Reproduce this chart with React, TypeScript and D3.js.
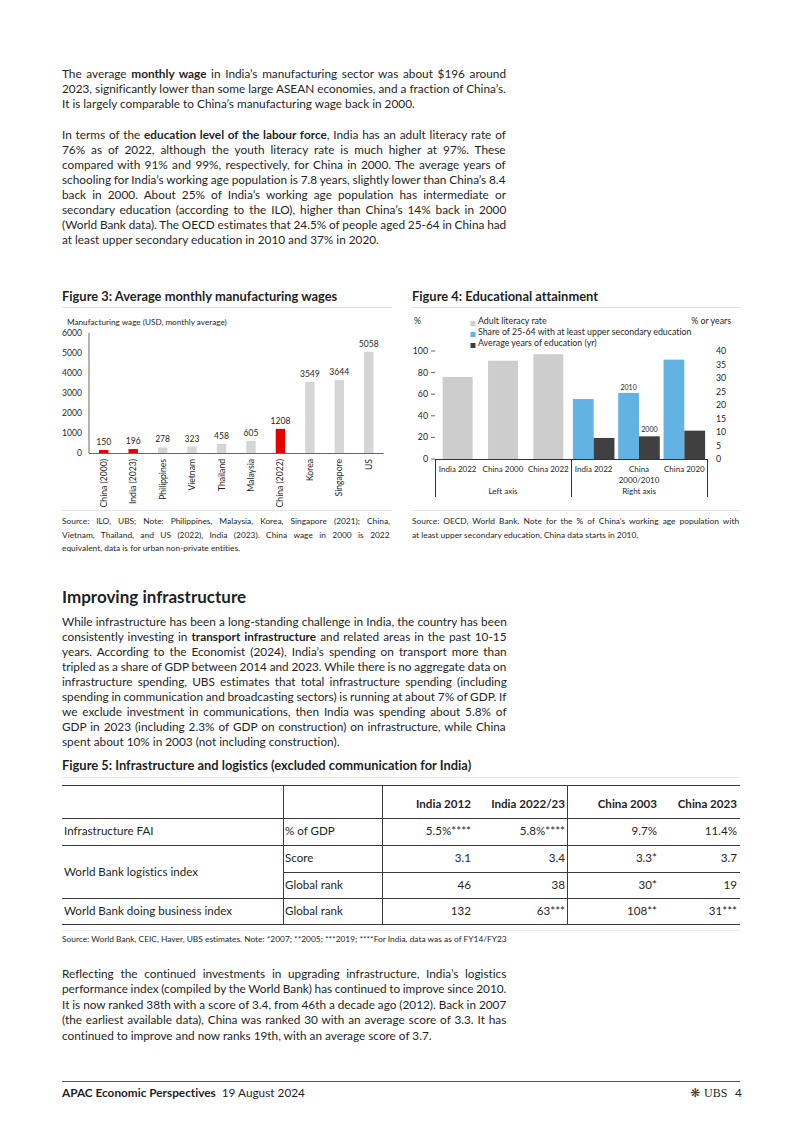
import React from 'react';
import * as d3 from 'd3';

const W = 802;
const H = 1134;
const FONT = "Lato, 'Open Sans', sans-serif";
const TEXT = '#1f1f1f';

// ---------- Figure 3 data ----------
const wageCountries = ['China (2000)', 'India (2023)', 'Philippines', 'Vietnam', 'Thailand', 'Malaysia', 'China (2022)', 'Korea', 'Singapore', 'US'];
const wageValues = [150, 196, 278, 323, 458, 605, 1208, 3549, 3644, 5058];
const wageHighlight = [true, true, false, false, false, false, true, false, false, false];
const wageTicks = [0, 1000, 2000, 3000, 4000, 5000, 6000];

// ---------- Figure 4 data ----------
const eduLeftCats = ['India 2022', 'China 2000', 'China 2022'];
const literacyRate = [76, 91, 97];
const eduRightCats = ['India 2022', 'China\n2000/2010', 'China 2020'];
const upperSecondaryShare = [22.2, 24.5, 36.8];
const avgYearsEdu = [7.8, 8.4, 10.5];
const shareNotes = ['', '2010', ''];
const yearsNotes = ['', '2000', ''];
const leftTicks = [0, 20, 40, 60, 80, 100];
const rightTicks = [0, 5, 10, 15, 20, 25, 30, 35, 40];
const eduLegend = ['Adult literacy rate', 'Share of 25-64 with at least upper secondary education', 'Average years of education (yr)'];

// ---------- Figure 5 table ----------
const tableHeaders = ['India 2012', 'India 2022/23', 'China 2003', 'China 2023'];
const tableLabels = ['Infrastructure FAI', 'World Bank logistics index', '', 'World Bank doing business index'];
const tableMetrics = ['% of GDP', 'Score', 'Global rank', 'Global rank'];
const tableValues = [
  ['5.5%****', '5.8%****', '9.7%', '11.4%'],
  ['3.1', '3.4', '3.3*', '3.7'],
  ['46', '38', '30*', '19'],
  ['132', '63***', '108**', '31***'],
];

// ---------- Text ----------
const para1 = [
  'The average **monthly wage** in India’s manufacturing sector was about $196 around',
  '2023, significantly lower than some large ASEAN economies, and a fraction of China’s.',
  'It is largely comparable to China’s manufacturing wage back in 2000.',
];
const para2 = [
  'In terms of the **education level of the labour force**, India has an adult literacy rate of',
  '76% as of 2022, although the youth literacy rate is much higher at 97%. These',
  'compared with 91% and 99%, respectively, for China in 2000. The average years of',
  'schooling for India’s working age population is 7.8 years, slightly lower than China’s 8.4',
  'back in 2000. About 25% of India’s working age population has intermediate or',
  'secondary education (according to the ILO), higher than China’s 14% back in 2000',
  '(World Bank data). The OECD estimates that 24.5% of people aged 25-64 in China had',
  'at least upper secondary education in 2010 and 37% in 2020.',
];
const para3 = [
  'While infrastructure has been a long-standing challenge in India, the country has been',
  'consistently investing in **transport infrastructure** and related areas in the past 10-15',
  'years. According to the Economist (2024), India’s spending on transport more than',
  'tripled as a share of GDP between 2014 and 2023. While there is no aggregate data on',
  'infrastructure spending, UBS estimates that total infrastructure spending (including',
  'spending in communication and broadcasting sectors) is running at about 7% of GDP. If',
  'we exclude investment in communications, then India was spending about 5.8% of',
  'GDP in 2023 (including 2.3% of GDP on construction) on infrastructure, while China',
  'spent about 10% in 2003 (not including construction).',
];
const para4 = [
  'Reflecting the continued investments in upgrading infrastructure, India’s logistics',
  'performance index (compiled by the World Bank) has continued to improve since 2010.',
  'It is now ranked 38th with a score of 3.4, from 46th a decade ago (2012). Back in 2007',
  '(the earliest available data), China was ranked 30 with an average score of 3.3. It has',
  'continued to improve and now ranks 19th, with an average score of 3.7.',
];
const src3 = [
  'Source: ILO, UBS; Note: Philippines, Malaysia, Korea, Singapore (2021); China,',
  'Vietnam, Thailand, and US (2022), India (2023). China wage in 2000 is 2022',
  'equivalent, data is for urban non-private entities.',
];
const src4 = [
  'Source: OECD, World Bank. Note for the % of China’s working age population with',
  'at least upper secondary education, China data starts in 2010.',
];
const src5 = ['Source: World Bank, CEIC, Haver, UBS estimates. Note: *2007; **2005; ***2019; ****For India, data was as of FY14/FY23'];

// ---------- helpers ----------
let ctx: CanvasRenderingContext2D | null = null;
function measure(text: string, size: number, weight: number, family: string) {
  if (!ctx) ctx = document.createElement('canvas').getContext('2d');
  if (!ctx) return text.length * size * 0.5;
  ctx.font = `${weight} ${size}px ${family}`;
  return ctx.measureText(text).width;
}
function parse(line: string, plain: boolean) {
  if (plain) return [{ t: line, b: false }];
  const parts = line.split('**');
  return parts.map((t, i) => ({ t, b: i % 2 === 1 })).filter((s) => s.t.length > 0);
}

function Para({ lines, x, y, lh, width, size, justify = true, plain = false, family = FONT, color = TEXT }: any) {
  return (
    <g transform={`translate(${x},0)`}>
      {lines.map((line: string, i: number) => {
        const segs = parse(line, plain);
        const nat = segs.reduce((s, g) => s + measure(g.t, size, g.b ? 700 : 400, family), 0);
        const isLast = i === lines.length - 1;
        const raw = plain ? line : line.replace(/\*\*/g, '');
        const spaces = (raw.match(/ /g) || []).length;
        const ws = justify && !isLast && spaces > 0 ? (width - nat) / spaces : 0;
        return (
          <text key={i} x={0} y={y + i * lh} fontSize={size} fontFamily={family} fill={color} style={{ whiteSpace: 'pre', wordSpacing: `${ws}px` }}>
            {segs.map((g, j) => (
              <tspan key={j} fontWeight={g.b ? 700 : 400}>{g.t}</tspan>
            ))}
          </text>
        );
      })}
    </g>
  );
}

// ---------- Figure 3 ----------
function Fig3() {
  const x = d3.scaleBand<string>().domain(wageCountries).range([89, 383.5]).paddingInner(0.68).paddingOuter(0.34);
  const y = d3.scaleLinear().domain([0, 6000]).range([453, 333]);
  const fs = 8.6;
  return (
    <g fontFamily={FONT} fill={TEXT}>
      <text x={62} y={301} fontSize={12.9} fontWeight={700}>Figure 3: Average monthly manufacturing wages</text>
      <line x1={62} x2={392} y1={307.5} y2={307.5} stroke="#e2e2e2" />
      <text x={67} y={325} fontSize={8.2}>Manufacturing wage (USD, monthly average)</text>
      {wageTicks.map((t) => (
        <text key={t} x={82} y={y(t)} dy="0.35em" fontSize={fs} textAnchor="end">{t}</text>
      ))}
      {wageCountries.map((c, i) => (
        <g key={c}>
          <rect x={x(c)} y={y(wageValues[i])} width={x.bandwidth()} height={y(0) - y(wageValues[i])} fill={wageHighlight[i] ? '#e60000' : '#d5d5d5'} />
          <text x={(x(c) as number) + x.bandwidth() / 2} y={y(wageValues[i]) - 5} fontSize={fs} textAnchor="middle">{wageValues[i]}</text>
          <text transform={`translate(${(x(c) as number) + x.bandwidth() / 2},459) rotate(-90)`} dy="0.35em" fontSize={8.6} textAnchor="end">{c}</text>
        </g>
      ))}
      <line x1={89} x2={89} y1={333} y2={453} stroke="#666" />
      <line x1={89} x2={383.5} y1={453.5} y2={453.5} stroke="#666" />
      <line x1={62} x2={392} y1={510.5} y2={510.5} stroke="#e6e6e6" />
    </g>
  );
}

// ---------- Figure 4 ----------
function Fig4() {
  const keys = [...eduLeftCats.map((c) => 'L|' + c), ...eduRightCats.map((c) => 'R|' + c)];
  const x = d3.scaleBand<string>().domain(keys).range([435, 707]).paddingInner(0.34).paddingOuter(0.17);
  const xo = d3.scaleBand<string>().domain(keys).range([435, 707]);
  const yL = d3.scaleLinear().domain([0, 100]).range([459, 351]);
  const yR = d3.scaleLinear().domain([0, 40]).range([459, 351]);
  const sub = d3.scaleBand<string>().domain(['share', 'years']).range([0, xo.bandwidth()]).paddingInner(0).paddingOuter(0.09);
  const fs = 8.8;
  const colors = ['#cdcdcd', '#62b3e4', '#404040'];
  return (
    <g fontFamily={FONT} fill={TEXT}>
      <text x={412} y={301} fontSize={12.9} fontWeight={700}>Figure 4: Educational attainment</text>
      <line x1={412} x2={741} y1={307.5} y2={307.5} stroke="#e2e2e2" />
      <text x={414} y={324} fontSize={fs}>%</text>
      <text x={731} y={324} fontSize={fs} textAnchor="end">% or years</text>
      {eduLegend.map((l, i) => (
        <g key={l}>
          <rect x={470.5} y={321 + i * 11} width={5} height={5} fill={colors[i]} />
          <text x={478} y={324.3 + i * 11} fontSize={fs}>{l}</text>
        </g>
      ))}
      {leftTicks.map((t) => (
        <g key={t}>
          <text x={428} y={yL(t)} dy="0.35em" fontSize={fs} textAnchor="end">{t}</text>
          <line x1={431} x2={435} y1={yL(t)} y2={yL(t)} stroke="#666" />
        </g>
      ))}
      {rightTicks.map((t) => (
        <text key={t} x={716} y={yR(t)} dy="0.35em" fontSize={fs}>{t}</text>
      ))}
      {eduLeftCats.map((c, i) => (
        <rect key={c} x={x('L|' + c)} y={yL(literacyRate[i])} width={x.bandwidth()} height={yL(0) - yL(literacyRate[i])} fill={colors[0]} />
      ))}
      {eduRightCats.map((c, i) => {
        const x0 = xo('R|' + c) as number;
        const xs = x0 + (sub('share') as number);
        const xy = x0 + (sub('years') as number);
        return (
          <g key={c}>
            <rect x={xs} y={yR(upperSecondaryShare[i])} width={sub.bandwidth()} height={yR(0) - yR(upperSecondaryShare[i])} fill={colors[1]} />
            <rect x={xy} y={yR(avgYearsEdu[i])} width={sub.bandwidth()} height={yR(0) - yR(avgYearsEdu[i])} fill={colors[2]} />
            {shareNotes[i] && <text x={xs + sub.bandwidth() / 2} y={yR(upperSecondaryShare[i]) - 3} fontSize={7} textAnchor="middle">{shareNotes[i]}</text>}
            {yearsNotes[i] && <text x={xy + sub.bandwidth() / 2} y={yR(avgYearsEdu[i]) - 4} fontSize={7} textAnchor="middle">{yearsNotes[i]}</text>}
          </g>
        );
      })}
      {keys.map((k) => {
        const label = k.split('|')[1].split('\n');
        const cx = (xo(k) as number) + xo.bandwidth() / 2;
        return label.map((l, j) => (
          <text key={k + j} x={cx} y={472 + j * 11} fontSize={8} textAnchor="middle">{l}</text>
        ));
      })}
      <line x1={435} x2={707} y1={459.5} y2={459.5} stroke="#333" />
      {[435, 571, 707].map((v) => (
        <line key={v} x1={v + 0.5} x2={v + 0.5} y1={459} y2={497} stroke="#333" />
      ))}
      <text x={503} y={494} fontSize={8} textAnchor="middle">Left axis</text>
      <text x={639} y={494} fontSize={8} textAnchor="middle">Right axis</text>
      <line x1={412} x2={741} y1={510.5} y2={510.5} stroke="#e6e6e6" />
    </g>
  );
}

// ---------- Table ----------
function Table() {
  const rowY = [835, 862, 889, 915];
  const colRight = [471, 565, 657, 737];
  const stroke = '#3a3a3a';
  return (
    <g fontFamily={FONT} fill={TEXT} fontSize={11.6}>
      <text x={62} y={770} fontSize={12.9} fontWeight={700}>Figure 5: Infrastructure and logistics (excluded communication for India)</text>
      <line x1={62} x2={740} y1={777.5} y2={777.5} stroke="#e6e6e6" />
      {tableHeaders.map((h, i) => (
        <text key={h} x={colRight[i]} y={808} textAnchor="end" fontWeight={700}>{h}</text>
      ))}
      {tableMetrics.map((m, r) => (
        <g key={r}>
          <text x={285} y={rowY[r]}>{m}</text>
          {tableValues[r].map((v, c) => (
            <text key={c} x={colRight[c]} y={rowY[r]} textAnchor="end">{v}</text>
          ))}
        </g>
      ))}
      <text x={64} y={rowY[0]}>{tableLabels[0]}</text>
      <text x={64} y={(rowY[1] + rowY[2]) / 2}>{tableLabels[1]}</text>
      <text x={64} y={rowY[3]}>{tableLabels[3]}</text>
      {[785, 818, 845, 898, 924].map((v) => (
        <line key={v} x1={62} x2={740} y1={v + 0.5} y2={v + 0.5} stroke={stroke} />
      ))}
      <line x1={283} x2={740} y1={872.5} y2={872.5} stroke={stroke} />
      {[283, 382, 567].map((v) => (
        <line key={v} x1={v + 0.5} x2={v + 0.5} y1={785} y2={925} stroke={stroke} />
      ))}
      <line x1={62} x2={740} y1={930.5} y2={930.5} stroke="#eeeeee" />
    </g>
  );
}

export default function App() {
  return (
    <svg width={W} height={H} viewBox={`0 0 ${W} ${H}`} style={{ position: 'absolute', left: 0, top: 0, background: '#fff', fontVariantLigatures: 'none' }}>
      <rect width={W} height={H} fill="#fff" />
      <Para lines={para1} x={62} y={77.5} lh={15.3} width={445} size={11.8} />
      <Para lines={para2} x={62} y={139} lh={15} width={445} size={11.8} />
      <Fig3 />
      <Fig4 />
      <Para lines={src3} x={62} y={524} lh={13.5} width={328} size={8.4} plain />
      <Para lines={src4} x={412} y={524} lh={13.5} width={328} size={8.4} plain />
      <text x={62} y={603} fontFamily={FONT} fontSize={17} fontWeight={700} fill={TEXT}>Improving infrastructure</text>
      <Para lines={para3} x={62} y={626} lh={15} width={445} size={11.8} />
      <Table />
      <Para lines={src5} x={62} y={942} lh={13.5} width={400} size={8.4} plain />
      <Para lines={para4} x={62} y={978} lh={15.4} width={445} size={11.8} />
      <line x1={62} x2={740} y1={1081.5} y2={1081.5} stroke="#555" />
      <text x={62} y={1097} fontFamily={FONT} fontSize={11.8} fill={TEXT}>
        <tspan fontWeight={700}>APAC Economic Perspectives</tspan>
        <tspan dx={6}>19 August 2024</tspan>
      </text>
      <text x={690} y={1097} fontFamily="'DejaVu Sans'" fontSize={12} fill="#333">❋</text>
      <text x={704} y={1097} fontFamily="'Liberation Serif', serif" fontSize={12} fill={TEXT}>UBS</text>
      <text x={735} y={1097} fontFamily={FONT} fontSize={11.8} fill={TEXT}>4</text>
    </svg>
  );
}
